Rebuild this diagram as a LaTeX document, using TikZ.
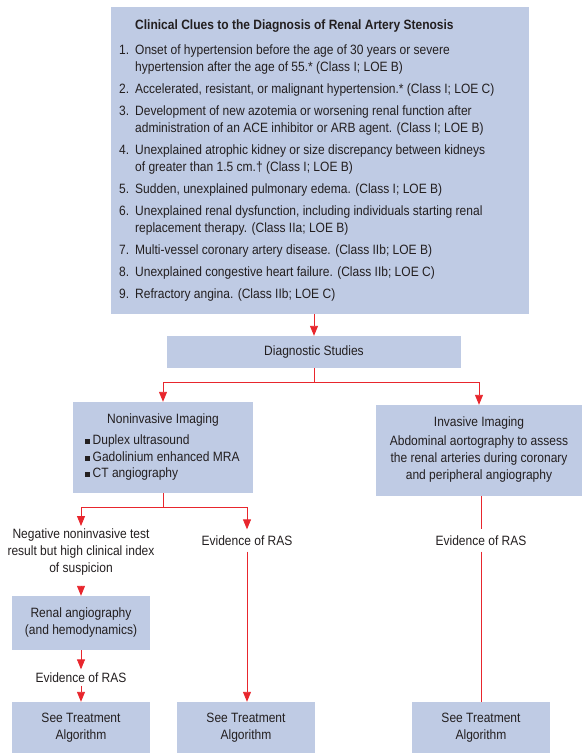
\documentclass[tikz,border=0pt]{standalone}
\usepackage{fontspec}
\setmainfont{Liberation Sans}[FakeStretch=0.89]
\usetikzlibrary{arrows.meta}
\definecolor{boxfill}{HTML}{BFCBE4}
\definecolor{arr}{HTML}{E8262D}
\definecolor{txt}{HTML}{231F20}
\newcommand{\sqbul}{\rule[1pt]{5pt}{5pt}\hspace{2.5pt}}
\begin{document}
\begin{tikzpicture}[x=1pt,y=-1pt,
  box/.style={fill=boxfill, draw=none, inner sep=0pt},
  t/.style={font=\fontsize{13.5}{17}\selectfont, text=txt, inner sep=0pt},
  li/.style={t, anchor=base west, yshift=-4.5pt},
  conn/.style={draw=arr, line width=0.9pt},
  arrow/.style={conn, -{Triangle[length=10pt,width=8pt]}}]
\useasboundingbox (0,0) rectangle (585,753);
% boxes
\node[box, minimum width=418pt, minimum height=307pt] (clues) at (320,160.5) {};
\node[box, minimum width=294pt, minimum height=32pt] (ds) at (314,352) {};
\node[box, minimum width=180pt, minimum height=91pt] (noninv) at (163,447.5) {};
\node[box, minimum width=206pt, minimum height=91pt] (inv) at (479,450.5) {};
\node[box, minimum width=138pt, minimum height=54pt] (renal) at (81,623) {};
\node[box, minimum width=138pt, minimum height=51pt] (bot1) at (81,727.5) {};
\node[box, minimum width=138pt, minimum height=51pt] (bot2) at (246,727.5) {};
\node[box, minimum width=138pt, minimum height=51pt] (bot3) at (481,727.5) {};
% clues text
\node[li, font=\fontsize{13.5}{17}\selectfont\bfseries] (title) at (135,25) {Clinical Clues to the Diagnosis of Renal Artery Stenosis};
\node[li] (n1) at (119,50) {1.};
\node[li] (l1a) at (135,50) {Onset of hypertension before the age of 30 years or severe};
\node[li] (l1b) at (135,67) {hypertension after the age of 55.* (Class I; LOE B)};
\node[li] (n2) at (119,89) {2.};
\node[li] (l2a) at (135,89) {Accelerated, resistant, or malignant hypertension.* (Class I; LOE C)};
\node[li] (n3) at (119,111) {3.};
\node[li] (l3a) at (135,111) {Development of new azotemia or worsening renal function after};
\node[li] (l3b) at (135,128) {administration of an ACE inhibitor or ARB agent. (Class I; LOE B)};
\node[li] (n4) at (119,150) {4.};
\node[li] (l4a) at (135,150) {Unexplained atrophic kidney or size discrepancy between kidneys};
\node[li] (l4b) at (135,167) {of greater than 1.5 cm.† (Class I; LOE B)};
\node[li] (n5) at (119,189) {5.};
\node[li] (l5a) at (135,189) {Sudden, unexplained pulmonary edema. (Class I; LOE B)};
\node[li] (n6) at (119,211) {6.};
\node[li] (l6a) at (135,211) {Unexplained renal dysfunction, including individuals starting renal};
\node[li] (l6b) at (135,228) {replacement therapy. (Class IIa; LOE B)};
\node[li] (n7) at (119,250) {7.};
\node[li] (l7a) at (135,250) {Multi-vessel coronary artery disease. (Class IIb; LOE B)};
\node[li] (n8) at (119,272) {8.};
\node[li] (l8a) at (135,272) {Unexplained congestive heart failure. (Class IIb; LOE C)};
\node[li] (n9) at (119,294) {9.};
\node[li] (l9a) at (135,294) {Refractory angina. (Class IIb; LOE C)};
% other texts
\node[t] (dst) at (ds.center) {Diagnostic Studies};
\node[t] (nit) at (163,420) {Noninvasive Imaging};
\node[li] (b1) at (85,440) {\sqbul Duplex ultrasound};
\node[li] (b2) at (85,457) {\sqbul Gadolinium enhanced MRA};
\node[li] (b3) at (85,473) {\sqbul CT angiography};
\node[t] (ivt) at (479,423) {Invasive Imaging};
\node[t, align=center] (ivb) at (479,459) {Abdominal aortography to assess\\the renal arteries during coronary\\and peripheral angiography};
\node[t, align=center, inner ysep=3pt] (neg) at (81,552.5) {Negative noninvasive test\\result but high clinical index\\of suspicion};
\node[t, inner ysep=3pt] (ev1) at (81,677.5) {Evidence of RAS};
\node[t, inner ysep=6pt] (ev2) at (247,540.5) {Evidence of RAS};
\node[t, inner ysep=6pt] (ev3) at (481,540.5) {Evidence of RAS};
\node[t, align=center] (bt1) at (bot1.center) {See Treatment\\Algorithm};
\node[t, align=center] (bt2) at (bot2.center) {See Treatment\\Algorithm};
\node[t, align=center] (bt3) at (bot3.center) {See Treatment\\Algorithm};
\node[t, align=center] (rt) at (renal.center) {Renal angiography\\(and hemodynamics)};
% connectors
\draw[arrow] (ds.north |- clues.south) -- (ds.north);
\draw[arrow] (ds.south) -- ++(0,14) -| (noninv.north);
\draw[arrow] (ds.south) -- ++(0,14) -| (inv.north);
\draw[arrow] (noninv.south) -- ++(0,14) -| (neg.north);
\draw[arrow] (noninv.south) -- ++(0,14) -| (ev2.north);
\draw[arrow] ([yshift=-8pt]neg.south) -- (renal.north);
\draw[arrow] (renal.south) -- (ev1.north);
\draw[arrow] (ev1.south) -- (bot1.north);
\draw[arrow] (ev2.south) -- (ev2.south |- bot2.north);
\draw[conn] (inv.south -| ev3.north) -- (ev3.north);
\draw[conn] (ev3.south) -- (bot3.north);
\end{tikzpicture}
\end{document}
